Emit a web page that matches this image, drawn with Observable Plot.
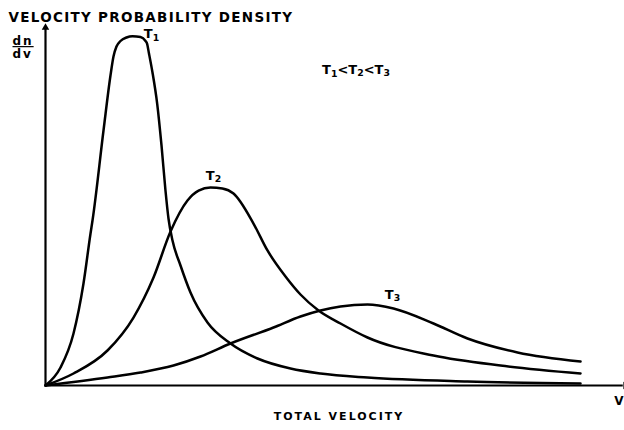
<!DOCTYPE html>
<html>
<head>
<meta charset="utf-8">
<script src="https://cdn.jsdelivr.net/npm/d3@7"></script>
<script src="https://cdn.jsdelivr.net/npm/@observablehq/plot@0.6"></script>
<style>
  html, body { margin: 0; padding: 0; background: #fff; }
  #chart svg { display: block; }
</style>
</head>
<body>
<div id="chart"></div>
<script>
// Velocity distributions at three temperatures (arbitrary units: velocity 0–100, density 0–100)
const seriesNames = ["T₁", "T₂", "T₃"];

const t1Velocity = [0, 2.65, 4.94, 6.70, 7.94, 8.29, 10.23, 11.46, 11.99, 12.52, 13.23, 14.29, 15.34, 16.75, 17.64, 17.90, 18.25, 18.87, 19.70, 20.46, 21.16, 21.69, 22.40, 23.81, 25.57, 28.57, 32.63, 37.39, 43.21, 48.50, 56.79, 74.43, 94.36];
const t1Density  = [0, 5.07, 14.65, 28.73, 42.82, 46.48, 71.83, 87.32, 92.68, 95.49, 97.04, 98.03, 98.39, 98.17, 97.04, 96.34, 93.52, 88.17, 79.35, 67.61, 54.93, 47.04, 40.85, 33.80, 26.20, 17.75, 11.83, 7.61, 4.79, 3.38, 2.25, 1.13, 0.56];

const t2Velocity = [0, 4.94, 10.93, 15.52, 19.05, 22.05, 25.04, 27.0, 29.10, 31.2, 33.16, 36.68, 39.15, 42.33, 44.97, 48.15, 52.03, 56.79, 68.43, 80.25, 94.36];
const t2Density  = [0, 3.38, 9.86, 19.15, 30.42, 43.38, 52.11, 54.9, 55.77, 55.5, 54.08, 45.63, 38.03, 30.70, 25.63, 21.13, 17.46, 13.52, 8.45, 5.63, 3.38];

const t3Velocity = [0, 10.93, 16.75, 22.57, 27.34, 32.63, 40.21, 44.97, 48.50, 52.03, 56.79, 61.38, 68.43, 74.43, 83.25, 94.36];
const t3Density  = [0, 2.25, 3.66, 5.63, 8.17, 11.83, 16.34, 19.44, 21.13, 22.25, 22.82, 21.69, 17.46, 13.24, 9.30, 6.76];

// Label offsets (px) from each curve's peak
const labelDx = [19, 3, 25];
const labelDy = [-2, -12, -10];

const titleText = "VELOCITY PROBABILITY DENSITY";
const xAxisLabel = "TOTAL VELOCITY";
const orderText = "T₁<T₂<T₃";

const font = "DejaVu Sans";

const columns = [[t1Velocity, t1Density], [t2Velocity, t2Density], [t3Velocity, t3Density]];
const curves = columns.flatMap(([vs, ns], i) =>
  vs.map((v, j) => ({series: seriesNames[i], v, n: ns[j]}))
);
const peaks = columns.map(([vs, ns], i) => {
  const j = d3.maxIndex(ns);
  return {series: seriesNames[i], v: vs[j], n: ns[j], dx: labelDx[i], dy: labelDy[i]};
});

// Axis ends carry the arrowheads
const axisEnds = [
  {v: 102.3, n: 0, angle: 90},
  {v: 0, n: 100.8, angle: 0}
];

const textStyle = {fontWeight: "bold", fill: "#000", stroke: "none"};

const chart = Plot.plot({
  width: 624,
  height: 430,
  marginLeft: 45,
  marginRight: 12,
  marginTop: 30,
  marginBottom: 45,
  x: {domain: [0, 100], axis: null},
  y: {domain: [0, 100], axis: null},
  style: {background: "#fff", color: "#000", fontFamily: font},
  marks: [
    Plot.ruleY([0], {x1: 0, x2: 101.9, stroke: "#000", strokeWidth: 2.2}),
    Plot.ruleX([0], {y1: 0, y2: 100.5, stroke: "#000", strokeWidth: 2.2}),
    Plot.dot(axisEnds, {x: "v", y: "n", rotate: "angle", symbol: "triangle2", r: 3.6, fill: "#000", stroke: "none"}),
    Plot.line(curves, {x: "v", y: "n", z: "series", curve: "monotone-x", stroke: "#000", strokeWidth: 2.5}),
    ...peaks.map(p => Plot.text([p], {x: "v", y: "n", text: "series", dx: p.dx, dy: p.dy, fontSize: 13, ...textStyle})),
    Plot.text([orderText], {frameAnchor: "top", dx: 27, dy: 34, fontSize: 13, ...textStyle}),
    Plot.text([titleText], {frameAnchor: "top-left", dx: -37, dy: -18, textAnchor: "start", fontSize: 13.5, ...textStyle}),
    Plot.text(["dn"], {frameAnchor: "top-left", dx: -33, dy: 6, textAnchor: "start", fontSize: 12, ...textStyle}),
    Plot.text(["dv"], {frameAnchor: "top-left", dx: -33, dy: 19, textAnchor: "start", fontSize: 12, ...textStyle}),
    Plot.text([xAxisLabel], {frameAnchor: "bottom", dx: 10, dy: 34, fontSize: 11, ...textStyle}),
    Plot.text(["V"], {frameAnchor: "bottom-right", dx: 11, dy: 19, textAnchor: "end", fontSize: 12, ...textStyle})
  ]
});

// Letter spacing, fraction bar and subscripts for the lettering
const svg = d3.select(chart);
const texts = svg.selectAll("text");
const byContent = s => texts.filter(function () { return this.textContent === s; });
byContent(titleText).style("letter-spacing", "1.3px");
byContent(xAxisLabel).style("letter-spacing", "2px");
byContent("dn").style("letter-spacing", "2px").style("text-decoration", "underline");
byContent("dv").style("letter-spacing", "2px");

const subDigits = {"₁": "1", "₂": "2", "₃": "3"};
texts.each(function () {
  const s = this.textContent;
  if (![...s].some(c => subDigits[c])) return;
  const el = d3.select(this);
  el.text(null);
  let pending = 0;
  for (const c of s) {
    if (subDigits[c]) {
      el.append("tspan").attr("dy", "0.3em").attr("font-size", "0.72em").text(subDigits[c]);
      pending = 1;
    } else {
      const t = el.append("tspan").text(c);
      if (pending) { t.attr("dy", "-0.22em"); pending = 0; }
    }
  }
});

document.getElementById("chart").append(chart);
</script>
</body>
</html>
